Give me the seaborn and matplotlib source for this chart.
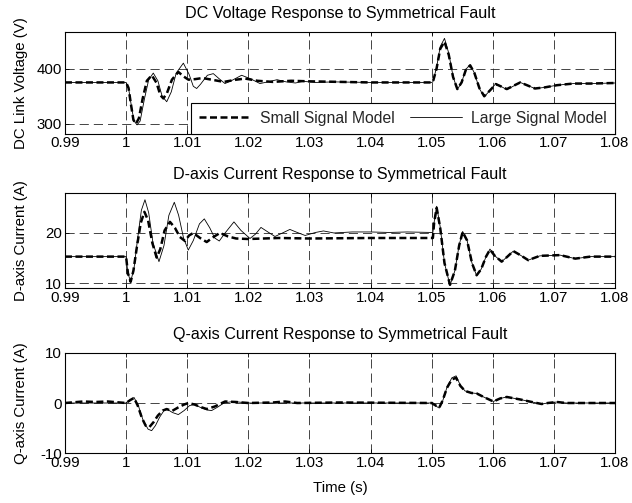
import numpy as np
import pandas as pd
import matplotlib
matplotlib.use("Agg")
import matplotlib.pyplot as plt
import seaborn as sns

# ---------------- data ----------------
x_ticks = [0.99, 1.00, 1.01, 1.02, 1.03, 1.04, 1.05, 1.06, 1.07, 1.08]
x_tick_labels = ["0.99", "1", "1.01", "1.02", "1.03", "1.04", "1.05", "1.06", "1.07", "1.08"]

titles = ["DC Voltage Response to Symmetrical Fault",
          "D-axis Current Response to Symmetrical Fault",
          "Q-axis Current Response to Symmetrical Fault"]
ylabels = ["DC Link Voltage (V)", "D-axis Current (A)", "Q-axis Current (A)"]
xlabel = "Time (s)"
legend_labels = ["Small Signal Model", "Large Signal Model"]

# DC link voltage - small signal model
t_dc_small = [0.99, 0.995, 1.0, 1.0004, 1.0008, 1.0012, 1.0016, 1.0021, 1.0027, 1.0034,
              1.0042, 1.0050, 1.0056, 1.0061, 1.0067, 1.0075, 1.00855, 1.0094, 1.0102, 1.0113,
              1.0125, 1.0140, 1.0160, 1.0180, 1.0195, 1.0215, 1.024, 1.027, 1.030, 1.035,
              1.040, 1.045, 1.050, 1.0502, 1.0508, 1.0514, 1.0521, 1.0528, 1.0535, 1.0542,
              1.0549, 1.0556, 1.0563, 1.0570, 1.0578, 1.0586, 1.0595, 1.0605, 1.0623, 1.0645,
              1.0669, 1.0685, 1.0705, 1.0732, 1.076, 1.08]
v_dc_small = [375, 375, 375, 365, 335, 307, 300, 310, 345, 378,
              388, 374, 352, 346, 356, 380, 394, 386, 380, 381,
              383, 380, 376, 380, 382, 378, 376, 378, 377, 376,
              375, 375, 375, 376, 400, 436, 449, 425, 385, 363,
              375, 398, 406, 392, 365, 350, 360, 372, 363, 375,
              364, 366, 370, 373, 373, 374]

# DC link voltage - large signal model
t_dc_large = [0.99, 0.995, 1.0, 1.0004, 1.0009, 1.0013, 1.0018, 1.0023, 1.0030, 1.0037,
              1.00445, 1.0052, 1.0059, 1.00665, 1.0074, 1.0082, 1.00937, 1.0103, 1.0110, 1.01155,
              1.0122, 1.0133, 1.01427, 1.0152, 1.01618, 1.0172, 1.0189, 1.0203, 1.0219, 1.0232,
              1.0247, 1.0262, 1.0277, 1.029, 1.031, 1.034, 1.040, 1.050, 1.0502, 1.0508,
              1.0514, 1.0521, 1.0528, 1.0535, 1.0542, 1.0549, 1.0556, 1.0563, 1.0570, 1.0578,
              1.0586, 1.0595, 1.0605, 1.0623, 1.0645, 1.0669, 1.0685, 1.0705, 1.0732, 1.076,
              1.08]
v_dc_large = [375, 375, 375, 365, 330, 305, 298, 305, 345, 380,
              392, 378, 350, 340, 358, 392, 410, 390, 368, 364,
              372, 388, 391, 382, 373, 378, 388, 382, 373, 376,
              380, 376, 374, 377, 375, 376, 375, 375, 376, 402,
              440, 455, 428, 386, 362, 375, 399, 407, 392, 364,
              349, 360, 373, 362, 375, 364, 366, 370, 373, 373,
              374]

# D-axis current - small signal model
t_d_small = [0.99, 1.0, 1.0003, 1.00075, 1.0012, 1.0018, 1.0024, 1.0030, 1.0036, 1.0043,
             1.0050, 1.0056, 1.0063, 1.00718, 1.0080, 1.0088, 1.00964, 1.0103, 1.011, 1.0121,
             1.01319, 1.0143, 1.01536, 1.0167, 1.018, 1.020, 1.025, 1.030, 1.040, 1.050,
             1.0502, 1.0504, 1.05082, 1.0514, 1.0521, 1.053, 1.0538, 1.0545, 1.05507, 1.0558,
             1.0566, 1.05736, 1.0581, 1.0589, 1.05954, 1.0603, 1.06145, 1.0624, 1.06336, 1.0645,
             1.0658, 1.0677, 1.071, 1.0735, 1.076, 1.08]
i_d_small = [15.3, 15.3, 12.0, 10.3, 12.5, 17.5, 22.0, 24.2, 22.5, 18.0,
             15.1, 16.8, 20.5, 22.2, 21.0, 19.2, 18.4, 19.5, 20.0, 19.0,
             18.2, 19.2, 20.0, 19.3, 18.9, 18.8, 19.0, 18.9, 19.0, 19.0,
             19.0, 22.0, 25.0, 21.0, 14.0, 9.7, 12.5, 17.5, 20.2, 18.5,
             14.0, 11.6, 12.8, 15.3, 16.7, 15.5, 14.3, 15.3, 16.4, 15.6,
             14.6, 15.45, 15.6, 14.9, 15.3, 15.3]

# D-axis current - large signal model
t_d_large = [0.99, 1.0, 1.0003, 1.00075, 1.0013, 1.0019, 1.0025, 1.00309, 1.0037, 1.0044,
             1.00538, 1.0062, 1.0070, 1.00789, 1.0086, 1.0094, 1.01018, 1.0110, 1.0120, 1.0128,
             1.0137, 1.0145, 1.01525, 1.0162, 1.01765, 1.0188, 1.02027, 1.0212, 1.02207, 1.0232,
             1.02436, 1.0256, 1.0268, 1.028, 1.0293, 1.031, 1.0323, 1.034, 1.037, 1.040,
             1.043, 1.046, 1.050, 1.0502, 1.0505, 1.05082, 1.0514, 1.0521, 1.053, 1.0538,
             1.0545, 1.05507, 1.0558, 1.0566, 1.05736, 1.0581, 1.0589, 1.05954, 1.0603, 1.06145,
             1.0624, 1.06336, 1.0645, 1.0658, 1.0677, 1.071, 1.0735, 1.076, 1.08]
i_d_large = [15.3, 15.3, 12.0, 10.3, 13.0, 19.0, 24.5, 26.6, 24.0, 18.0,
             14.3, 17.5, 23.5, 26.1, 23.5, 19.0, 16.6, 18.5, 21.8, 22.8,
             21.0, 19.0, 18.4, 20.0, 22.2, 20.5, 18.9, 19.8, 21.1, 20.2,
             19.3, 20.0, 20.7, 20.1, 19.5, 20.1, 20.4, 20.0, 20.2, 20.2,
             20.1, 20.2, 20.1, 20.1, 23.0, 25.3, 21.2, 14.0, 9.6, 12.5,
             17.6, 20.3, 18.5, 14.0, 11.5, 12.8, 15.3, 16.8, 15.5, 14.3,
             15.3, 16.4, 15.6, 14.6, 15.45, 15.6, 14.9, 15.3, 15.3]

# Q-axis current - small signal model
t_q_small = [0.99, 0.993, 0.995, 0.997, 1.0, 1.0007, 1.0013, 1.0019, 1.0026, 1.0032,
             1.0038, 1.0045, 1.0052, 1.0060, 1.00664, 1.0075, 1.0085, 1.0095, 1.0102, 1.0112,
             1.0122, 1.0132, 1.0145, 1.0155, 1.0162, 1.018, 1.020, 1.024, 1.026, 1.028,
             1.035, 1.050, 1.0508, 1.05125, 1.0518, 1.0525, 1.0533, 1.054, 1.0547, 1.05546,
             1.0565, 1.05737, 1.0585, 1.0601, 1.0612, 1.0623, 1.0645, 1.066, 1.0672, 1.068,
             1.069, 1.0705, 1.072, 1.08]
i_q_small = [0.0, 0.3, 0.2, 0.3, 0.0, 0.6, 1.0, -0.5, -3.0, -4.5,
             -4.8, -3.8, -2.5, -1.5, -1.2, -1.6, -0.9, -0.3, 0.0, -0.3,
             -0.8, -1.2, -0.7, -0.1, 0.3, 0.2, 0.0, 0.1, 0.3, 0.0,
             0.1, 0.0, -0.6, -0.9, 0.5, 3.0, 4.7, 5.0, 3.4, 2.4,
             2.0, 1.9, 1.2, 0.3, 0.9, 1.2, 0.7, 0.3, 0.0, -0.2,
             0.0, 0.2, 0.0, 0.0]

# Q-axis current - large signal model
t_q_large = [0.99, 1.0, 1.0007, 1.0013, 1.0020, 1.0028, 1.0036, 1.00418, 1.0048, 1.0055,
             1.0062, 1.0068, 1.0076, 1.00855, 1.0095, 1.0104, 1.0112, 1.0122, 1.0133, 1.0140,
             1.0150, 1.0160, 1.0175, 1.020, 1.030, 1.050, 1.0508, 1.05125, 1.0518, 1.0525,
             1.0533, 1.054, 1.0547, 1.05546, 1.0565, 1.05737, 1.0585, 1.0601, 1.0612, 1.0623,
             1.0645, 1.066, 1.0672, 1.068, 1.069, 1.0705, 1.072, 1.08]
i_q_large = [0.0, 0.0, 0.6, 1.1, -0.5, -3.5, -5.2, -5.5, -4.5, -2.8,
             -1.5, -1.3, -1.9, -2.3, -1.5, -0.5, -0.3, -0.9, -1.4, -1.5,
             -0.8, 0.0, 0.3, 0.0, 0.0, 0.0, -0.7, -1.0, 0.4, 3.1,
             5.0, 5.4, 3.5, 2.4, 2.0, 1.9, 1.2, 0.3, 0.9, 1.2,
             0.7, 0.3, 0.0, -0.2, 0.0, 0.2, 0.0, 0.0]

y_limits = [(282, 466), (9, 28), (-10, 10)]
y_ticks = [[300, 400], [10, 20], [-10, 0, 10]]

# ---------------- style ----------------
sns.set_theme(style="white")
plt.rcParams["font.family"] = ["Liberation Sans", "DejaVu Sans"]

FS_TITLE = 11.6
FS_TICK = 10.8
FS_LABEL = 10.8
FS_LEG = 11.3

fig = plt.figure(figsize=(6.32, 5.03), dpi=100)
positions = [
    [0.1028, 0.7342, 0.8703, 0.2016],
    [0.1028, 0.4268, 0.8703, 0.1901],
    [0.1028, 0.0988, 0.8703, 0.2000],
]

series = [
    (t_dc_small, v_dc_small, t_dc_large, v_dc_large),
    (t_d_small, i_d_small, t_d_large, i_d_large),
    (t_q_small, i_q_small, t_q_large, i_q_large),
]

dash_style = (0, (2.8, 1.4))
grid_style = (0, (11, 6))

for k in range(3):
    ax = fig.add_axes(positions[k])
    ts, ys, tl, yl = series[k]
    df_s = pd.DataFrame({"t": ts, "y": ys})
    df_l = pd.DataFrame({"t": tl, "y": yl})
    sns.lineplot(data=df_s, x="t", y="y", ax=ax, color="black", lw=1.8,
                 linestyle=dash_style, label=legend_labels[0], zorder=3)
    sns.lineplot(data=df_l, x="t", y="y", ax=ax, color="black", lw=0.6,
                 label=legend_labels[1], zorder=4)
    ax.set_xlim(0.99, 1.08)
    ax.set_ylim(*y_limits[k])
    ax.set_xticks(x_ticks)
    ax.set_xticklabels(x_tick_labels)
    ax.set_yticks(y_ticks[k])
    ax.set_yticklabels([str(v) for v in y_ticks[k]])
    ax.grid(True, color="#262626", lw=0.6, linestyle=grid_style)
    ax.set_axisbelow(True)
    for sp in ax.spines.values():
        sp.set_color("black")
        sp.set_linewidth(0.8)
    ax.tick_params(direction="in", length=3, width=0.6, color="black",
                   labelsize=FS_TICK, top=True, right=True,
                   bottom=True, left=True, labelcolor="black")
    ax.tick_params(axis="x", pad=2)
    ax.tick_params(axis="y", pad=2)
    ax.set_title(titles[k], fontsize=FS_TITLE, pad=10, color="black")
    ax.set_ylabel(ylabels[k], fontsize=FS_LABEL, color="black")
    ax.yaxis.set_label_coords(-0.068, 0.5)
    if k == 2:
        ax.set_xlabel(xlabel, fontsize=FS_LABEL, color="black", labelpad=8)
    else:
        ax.set_xlabel("")
    if k == 0:
        leg = ax.legend(loc="lower right", ncol=2, frameon=True, fancybox=False,
                        edgecolor="black", framealpha=1, borderaxespad=0,
                        handlelength=3.3, columnspacing=1.0, fontsize=FS_LEG,
                        borderpad=0.5, handletextpad=0.6)
        leg.get_frame().set_linewidth(0.8)
        leg.set_zorder(10)
    else:
        lg = ax.get_legend()
        if lg is not None:
            lg.remove()

fig.savefig("out.png", dpi=100)
